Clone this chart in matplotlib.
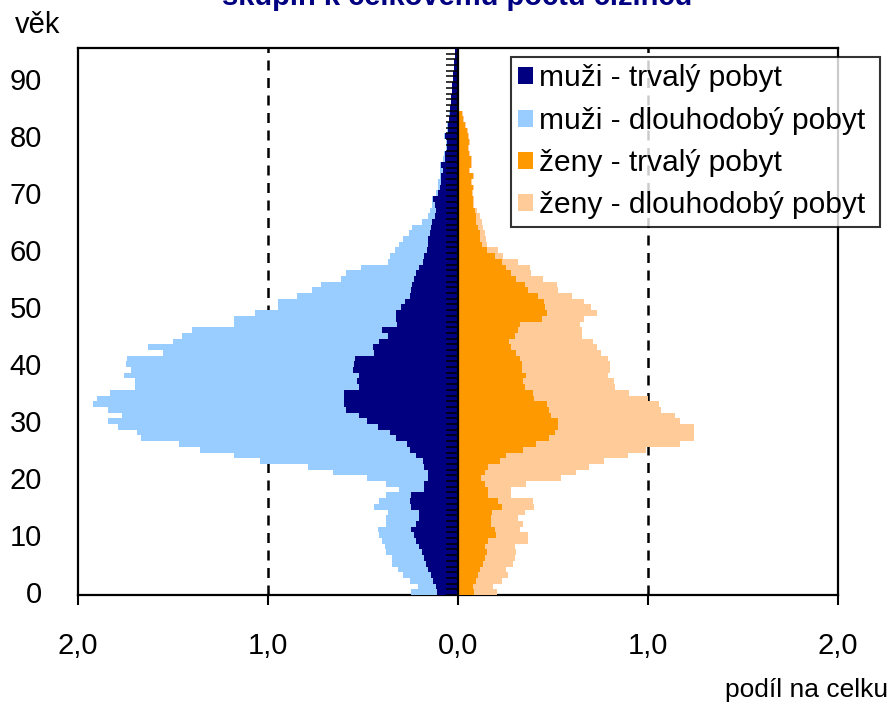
import numpy as np
import matplotlib
matplotlib.use("Agg")
import matplotlib.pyplot as plt  # noqa: E402
from matplotlib.patches import Patch  # noqa: E402

plt.rcParams["font.family"] = ["Liberation Sans", "DejaVu Sans"]

# age 0..95, share of total number of foreigners (%)
vek = np.arange(96)

muzi_trvaly = [
    0.11, 0.115, 0.13, 0.14, 0.16, 0.17, 0.18, 0.19, 0.205, 0.22,
    0.23, 0.245, 0.22, 0.205, 0.205, 0.245, 0.255, 0.245, 0.18, 0.18,
    0.16, 0.16, 0.18, 0.185, 0.22, 0.255, 0.27, 0.325, 0.36, 0.42,
    0.48, 0.52, 0.59, 0.60, 0.60, 0.60, 0.52, 0.53, 0.52, 0.555,
    0.55, 0.54, 0.44, 0.45, 0.415, 0.37, 0.40, 0.32, 0.325, 0.325,
    0.30, 0.28, 0.255, 0.245, 0.24, 0.23, 0.22, 0.205, 0.185, 0.18,
    0.165, 0.16, 0.16, 0.15, 0.14, 0.135, 0.12, 0.115, 0.12, 0.13,
    0.105, 0.095, 0.09, 0.09, 0.08, 0.09, 0.07, 0.07, 0.06, 0.06,
    0.07, 0.055, 0.055, 0.045, 0.04, 0.04, 0.035, 0.035, 0.03, 0.03,
    0.025, 0.025, 0.02, 0.02, 0.015, 0.015]

muzi_dlouhodoby = [
    0.14, 0.095, 0.125, 0.15, 0.155, 0.175, 0.17, 0.19, 0.18, 0.18,
    0.185, 0.175, 0.16, 0.175, 0.165, 0.195, 0.16, 0.135, 0.13, 0.20,
    0.32, 0.50, 0.61, 0.855, 0.96, 1.105, 1.20, 1.345, 1.33, 1.37,
    1.36, 1.25, 1.25, 1.32, 1.30, 1.23, 1.18, 1.17, 1.24, 1.165,
    1.20, 1.20, 1.11, 1.18, 1.085, 1.08, 1.00, 0.86, 0.855, 0.745,
    0.65, 0.67, 0.595, 0.525, 0.48, 0.385, 0.37, 0.305, 0.185, 0.18,
    0.165, 0.15, 0.13, 0.11, 0.10, 0.055, 0.04, 0.035, 0.015, 0.005,
    0.01, 0.01, 0.015, 0.005, 0.015, 0.005, 0.01, 0.005, 0.005, 0.005,
    0.005, 0.005, 0.005, 0.005, 0.005, 0.0, 0.0, 0.0, 0.0, 0.0,
    0.0, 0.0, 0.0, 0.0, 0.0, 0.0]

zeny_trvaly = [
    0.085, 0.08, 0.095, 0.105, 0.115, 0.13, 0.14, 0.15, 0.14, 0.16,
    0.20, 0.195, 0.175, 0.175, 0.18, 0.23, 0.21, 0.16, 0.16, 0.14,
    0.12, 0.14, 0.16, 0.22, 0.255, 0.34, 0.41, 0.48, 0.51, 0.525,
    0.525, 0.49, 0.48, 0.47, 0.40, 0.395, 0.35, 0.34, 0.36, 0.335,
    0.335, 0.325, 0.305, 0.28, 0.27, 0.30, 0.315, 0.325, 0.44, 0.47,
    0.46, 0.45, 0.42, 0.37, 0.35, 0.305, 0.28, 0.255, 0.23, 0.195,
    0.15, 0.125, 0.115, 0.115, 0.105, 0.095, 0.095, 0.09, 0.08, 0.08,
    0.075, 0.08, 0.07, 0.08, 0.06, 0.07, 0.07, 0.06, 0.055, 0.06,
    0.055, 0.045, 0.035, 0.025, 0.02, 0.0, 0.0, 0.0, 0.0, 0.0,
    0.0, 0.0, 0.0, 0.0, 0.0, 0.0]

zeny_dlouhodoby = [
    0.12, 0.105, 0.135, 0.16, 0.14, 0.16, 0.16, 0.155, 0.16, 0.21,
    0.17, 0.13, 0.165, 0.14, 0.17, 0.17, 0.185, 0.12, 0.12, 0.22,
    0.42, 0.48, 0.53, 0.55, 0.64, 0.65, 0.76, 0.76, 0.73, 0.715,
    0.645, 0.65, 0.59, 0.59, 0.60, 0.505, 0.475, 0.48, 0.43, 0.465,
    0.465, 0.465, 0.45, 0.45, 0.44, 0.35, 0.335, 0.315, 0.225, 0.26,
    0.24, 0.215, 0.18, 0.155, 0.17, 0.14, 0.105, 0.125, 0.085, 0.04,
    0.06, 0.025, 0.03, 0.025, 0.025, 0.03, 0.02, 0.01, 0.005, 0.005,
    0.005, 0.005, 0.005, 0.005, 0.005, 0.005, 0.005, 0.005, 0.005, 0.005,
    0.005, 0.005, 0.005, 0.005, 0.005, 0.0, 0.0, 0.0, 0.0, 0.0,
    0.0, 0.0, 0.0, 0.0, 0.0, 0.0]

serie = ["muži - trvalý pobyt", "muži - dlouhodobý pobyt",
         "ženy - trvalý pobyt", "ženy - dlouhodobý pobyt"]
barvy = ["#000080", "#99CCFF", "#FF9900", "#FFCC99"]
xticks = [-2, -1, 0, 1, 2]
xlabels = ["2,0", "1,0", "0,0", "1,0", "2,0"]
yticks = list(range(0, 91, 10))

FS = 21

fig = plt.figure(figsize=(8.94, 7.05), dpi=100)
ax = fig.add_axes([78 / 894, 110 / 705, 760 / 894, 547 / 705])

mt = -np.array(muzi_trvaly)
md = -np.array(muzi_dlouhodoby)
zt = np.array(zeny_trvaly)
zd = np.array(zeny_dlouhodoby)

ax.barh(vek, mt, height=1.0, color=barvy[0], linewidth=0, zorder=3)
ax.barh(vek, md, left=mt, height=1.0, color=barvy[1], linewidth=0, zorder=3)
ax.barh(vek, zt, height=1.0, color=barvy[2], linewidth=0, zorder=3)
ax.barh(vek, zd, left=zt, height=1.0, color=barvy[3], linewidth=0, zorder=3)

# dashed gridlines at +-1
for xv in (-1, 1):
    ax.axvline(xv, color="black", linestyle=(0, (4, 3)), linewidth=1.8, zorder=1)

# category axis at zero with a tick between every age
ax.axvline(0, color="black", linewidth=1.6, zorder=5)
ax.hlines(np.arange(-0.5, 96, 1.0), -0.065, 0, color="black", linewidth=1.1, zorder=5)

ax.set_xlim(-2, 2)
ax.set_ylim(-0.5, 95.5)
ax.set_xticks(xticks)
ax.set_xticklabels(xlabels, fontsize=FS)
ax.set_yticks(yticks)
ax.set_yticklabels([str(v) for v in yticks], fontsize=FS)
ax.tick_params(axis="x", direction="out", length=7, width=1.5, pad=20)
ax.tick_params(axis="y", length=0, pad=26)
for sp in ax.spines.values():
    sp.set_linewidth(1.6)
    sp.set_color("black")

fig.text(15 / 894, 1 - 25 / 705, "věk", fontsize=FS, va="center", ha="left")
fig.text(888 / 894, 1 - 690 / 705, "podíl na celku", fontsize=19,
         va="center", ha="right")
fig.text(457 / 894, 1 - 5 / 705, "skupin k celkovému počtu cizinců",
         fontsize=FS, fontweight="bold", color="#000080",
         ha="center", va="baseline")

handles = [Patch(facecolor=c, edgecolor="none") for c in barvy]
leg = fig.legend(handles, serie, loc="upper left", mode="expand",
                 bbox_to_anchor=(511 / 894, 1 - 228 / 705, 369 / 894, 171 / 705),
                 borderaxespad=0, fontsize=21.5, frameon=True, fancybox=False,
                 borderpad=0.25, handlelength=0.5, handleheight=0.5,
                 handletextpad=0.2, labelspacing=0.48)
leg.get_frame().set_edgecolor("black")
leg.get_frame().set_linewidth(1.5)
leg.set_zorder(10)

fig.savefig("out.png", dpi=100)
